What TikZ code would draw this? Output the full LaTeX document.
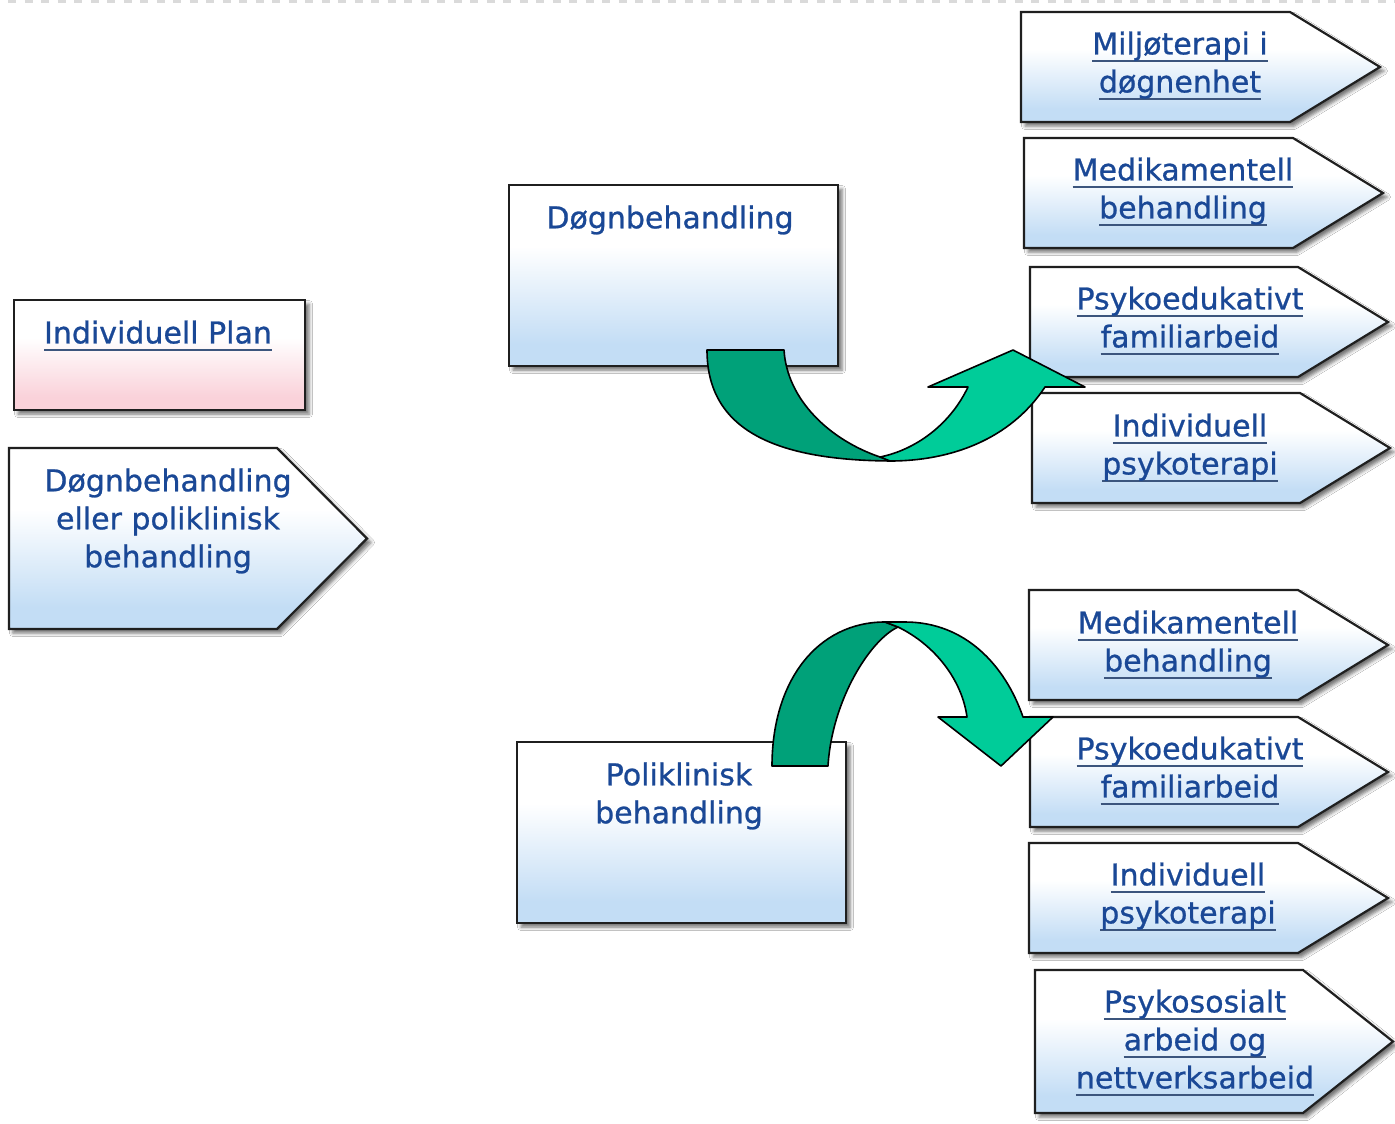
\documentclass[tikz,border=0pt]{standalone}
\usepackage{fontspec}
\setmainfont{DejaVu Sans}[FakeBold=0.8]
\usetikzlibrary{shadows.blur}
\definecolor{boxblue}{RGB}{195,221,245}
\definecolor{boxpink}{RGB}{250,210,218}
\definecolor{txtblue}{RGB}{26,72,150}
\definecolor{ulcol}{RGB}{60,85,125}
\definecolor{darkgreen}{RGB}{0,161,121}
\definecolor{lightgreen}{RGB}{0,204,153}
\definecolor{dashgray}{RGB}{218,218,218}
\pgfdeclareverticalshading{bluesh}{100bp}{color(0bp)=(boxblue); color(31bp)=(boxblue); color(58bp)=(white); color(100bp)=(white)}
\pgfdeclareverticalshading{pinksh}{100bp}{color(0bp)=(boxpink); color(31bp)=(boxpink); color(58bp)=(white); color(100bp)=(white)}
\newsavebox\ulbox
\newcommand\myul[1]{\leavevmode\sbox\ulbox{#1}\rlap{\textcolor{ulcol}{\rule[-8pt]{\wd\ulbox}{2.4pt}}}\usebox\ulbox}
\newcommand\pent[4]{% x0,y0,tip,y1
  \path[bluebox] (#1,#2) -- (#3-90,#2) -- (#3,{(#2+#4)/2}) -- (#3-90,#4) -- (#1,#4) -- cycle;}
\begin{document}
\begin{tikzpicture}[x=1pt,y=-1pt,
  lbl/.style={font=\fontsize{30}{38}\selectfont, text=txtblue, align=center, inner sep=0pt},
  boxstyle/.style={draw=black!88, line width=2.2pt, line join=miter,
     blur shadow={shadow xshift=4pt, shadow yshift=-4pt, shadow blur radius=3.5pt, shadow opacity=55}},
  bluebox/.style={boxstyle, shade, shading=bluesh},
  pinkbox/.style={boxstyle, shade, shading=pinksh},
  arrowline/.style={draw=black, line width=1.6pt, line join=round}]
\useasboundingbox (0,0) rectangle (1395,1124);
\fill[white] (0,0) rectangle (1395,1124);
% top dashed line
\draw[dashgray, line width=3pt, dash pattern=on 8pt off 8.5pt, dash phase=8.2pt] (0,1.5) -- (1395,1.5);

% left column
\path[pinkbox] (14,300) rectangle (305,410);
\path[bluebox] (9,448) -- (277,448) -- (367,538.5) -- (277,629) -- (9,629) -- cycle;
% middle boxes
\path[bluebox] (509,185) rectangle (838,366);
\path[bluebox] (517,742) rectangle (846,923);
% right pentagons
\pent{1021}{12}{1380}{122}
\pent{1024}{138}{1383}{248}
\pent{1030}{267}{1388}{377}
\pent{1032}{393}{1390}{503}
\pent{1029}{590}{1388}{700}
\pent{1030}{717}{1388}{827}
\pent{1029}{843}{1388}{953}
\pent{1035}{970}{1393}{1113}

% texts
\node[lbl] (ip) at (158,336) {\myul{Individuell Plan}};
\node[lbl] (dep) at (168,521) {Døgnbehandling\\eller poliklinisk\\behandling};
\node[lbl] (dogn) at (670,220) {Døgnbehandling};
\node[lbl] (poli) at (679,796) {Poliklinisk\\behandling};
\node[lbl] (r1) at (1180,66) {\myul{Miljøterapi i}\\\myul{døgnenhet}};
\node[lbl] (r2) at (1183,192) {\myul{Medikamentell}\\\myul{behandling}};
\node[lbl] (r3) at (1190,321) {\myul{Psykoedukativt}\\\myul{familiarbeid}};
\node[lbl] (r4) at (1190,448) {\myul{Individuell}\\\myul{psykoterapi}};
\node[lbl] (r5) at (1188,645) {\myul{Medikamentell}\\\myul{behandling}};
\node[lbl] (r6) at (1190,771) {\myul{Psykoedukativt}\\\myul{familiarbeid}};
\node[lbl] (r7) at (1188,897) {\myul{Individuell}\\\myul{psykoterapi}};
\node[lbl] (r8) at (1195,1043) {\myul{Psykososialt}\\\myul{arbeid og}\\\myul{nettverksarbeid}};

% upper curved arrow
\filldraw[arrowline, fill=darkgreen] (707,350) -- (784,350) .. controls (787,400) and (830,440) .. (880,457) -- (895,461) .. controls (775,461) and (707,430) .. (707,350) -- cycle;
\filldraw[arrowline, fill=lightgreen] (880,457) .. controls (915,450) and (950,425) .. (968,387) -- (928,387) -- (1013,350) -- (1085,387) -- (1045,387) .. controls (1010,440) and (950,461) .. (890,461) -- cycle;
% lower curved arrow
\filldraw[arrowline, fill=darkgreen] (772,766) -- (828,766) .. controls (832,700) and (870,640) .. (898,627) -- (885,622) .. controls (818,622) and (772,680) .. (772,766) -- cycle;
\filldraw[arrowline, fill=lightgreen] (885,622) -- (905,622) .. controls (965,622) and (1005,665) .. (1023,717) -- (1053,717) -- (1001,766) -- (938,717) -- (967,717) .. controls (962,680) and (935,645) .. (898,627) -- cycle;
\end{tikzpicture}
\end{document}
